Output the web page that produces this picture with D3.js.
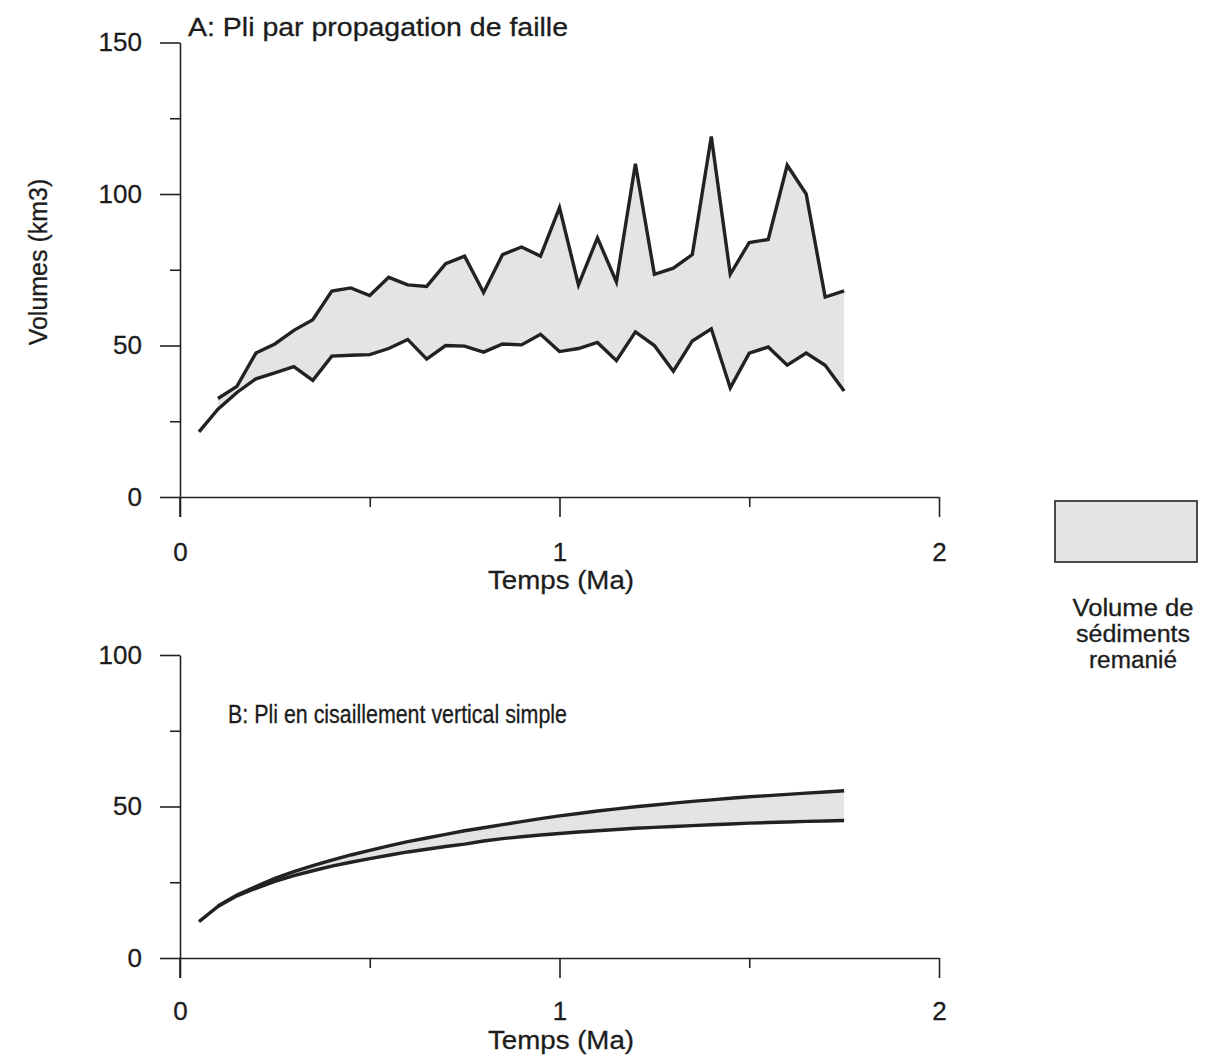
<!DOCTYPE html>
<html>
<head>
<meta charset="utf-8">
<script src="https://cdn.jsdelivr.net/npm/d3@7"></script>
<style>
  html, body { margin: 0; padding: 0; background: #fff; }
  svg { display: block; }
  text { font-family: "Liberation Sans", Arial, sans-serif; fill: #1c1c1c; stroke: #1c1c1c; stroke-width: 0.3; }
</style>
</head>
<body>
<svg id="chart" width="1208" height="1060"></svg>
<script>
// ---------- data ----------
const timeA = [0.05,0.10,0.15,0.20,0.25,0.30,0.35,0.40,0.45,0.50,0.55,0.60,0.65,0.70,0.75,0.80,0.85,0.90,0.95,1.00,1.05,1.10,1.15,1.20,1.25,1.30,1.35,1.40,1.45,1.50,1.55,1.60,1.65,1.70,1.75];
const upperA = [null,32.5,36.5,47.5,50.5,55,58.5,68,69,66.5,72.5,70,69.5,77,79.5,67.5,80,82.5,79.5,95.5,70,85.5,71,110,73.5,75.5,80,119,73.5,84,85,109.5,100,66,68];
const lowerA = [21.5,29,34.5,39,41,43,38.5,46.5,46.8,47,49,52,45.5,50,49.8,47.8,50.5,50.2,53.7,48,49,51,45,54.5,50,41.5,51.5,55.5,36,47.5,49.5,43.5,47.5,43.5,35];

const timeB = [0.05,0.10,0.15,0.20,0.25,0.30,0.35,0.40,0.45,0.50,0.55,0.60,0.65,0.70,0.75,0.80,0.85,0.90,0.95,1.00,1.05,1.10,1.15,1.20,1.25,1.30,1.35,1.40,1.45,1.50,1.55,1.60,1.65,1.70,1.75];
const upperB = [null,17.2,20.8,23.6,26.3,28.5,30.5,32.3,34,35.5,37,38.4,39.6,40.8,42,43,44,45,46,46.9,47.7,48.5,49.2,49.9,50.5,51.1,51.7,52.2,52.7,53.2,53.6,54,54.4,54.8,55.2];
const lowerB = [12,17,20.5,23,25.3,27.2,28.8,30.3,31.6,32.8,33.9,35,35.9,36.8,37.6,38.6,39.4,40,40.6,41.1,41.6,42,42.4,42.8,43.1,43.4,43.7,44,44.2,44.5,44.7,44.9,45.1,45.2,45.4];

const xMajorTicks = [0, 1, 2];
const xMinorTicks = [0.5, 1.5];
const yMajorTicksA = [0, 50, 100, 150];
const yMinorTicksA = [25, 75, 125];
const yMajorTicksB = [0, 50, 100];
const yMinorTicksB = [25, 75];

const titleA = "A: Pli par propagation de faille";
const titleB = "B: Pli en cisaillement vertical simple";
const xTitle = "Temps (Ma)";
const yTitle = "Volumes (km3)";
const legendLines = ["Volume de", "sédiments", "remanié"];

// ---------- drawing ----------
const svg = d3.select("#chart");
const FILL = "#e4e4e4";
const INK = "#222";
const FS = 26;

function drawPanel(opts) {
  const x = d3.scaleLinear().domain([0, 2]).range([180, 939]);
  const y = d3.scaleLinear().domain(opts.yDomain).range(opts.yRange);
  const g = svg.append("g");

  const rows = opts.time.map((t, i) => ({ t, u: opts.upper[i], l: opts.lower[i] }));

  const area = d3.area()
    .defined(d => d.u != null)
    .x(d => x(d.t)).y0(d => y(d.l)).y1(d => y(d.u));
  g.append("path").datum(rows).attr("d", area).attr("fill", FILL).attr("stroke", "none");

  const yMinor = g.append("g").attr("transform", `translate(${x(0)},0)`)
    .call(d3.axisLeft(y).tickValues(opts.yMinor).tickSize(10).tickFormat(""));
  yMinor.select(".domain").remove();
  const yMajor = g.append("g").attr("transform", `translate(${x(0)},0)`)
    .call(d3.axisLeft(y).tickValues(opts.yMajor).tickSize(20).tickSizeOuter(0).tickPadding(18).tickFormat(d3.format("d")));
  const xMinor = g.append("g").attr("transform", `translate(0,${y(0)})`)
    .call(d3.axisBottom(x).tickValues(xMinorTicks).tickSize(10).tickFormat(""));
  xMinor.select(".domain").remove();
  const xMajor = g.append("g").attr("transform", `translate(0,${y(0)})`)
    .call(d3.axisBottom(x).tickValues(xMajorTicks).tickSize(20).tickSizeOuter(0).tickPadding(opts.xPad).tickFormat(d3.format("d")));

  [yMinor, yMajor, xMinor, xMajor].forEach(a => {
    a.selectAll("line").attr("stroke", INK).attr("stroke-width", 1.6);
    a.selectAll(".domain").attr("stroke", INK).attr("stroke-width", 1.6);
    a.selectAll("text").attr("font-size", FS).attr("fill", "#1c1c1c")
      .attr("font-family", "'Liberation Sans', Arial, sans-serif");
  });
  g.append("line").attr("x1", x(0)).attr("x2", x(0)).attr("y1", y(0)).attr("y2", y(0) + 20)
    .attr("stroke", INK).attr("stroke-width", 1.6);

  const line = d3.line().defined(d => d.v != null).x(d => x(d.t)).y(d => y(d.v));
  const styleLine = p => p.attr("fill", "none").attr("stroke", INK).attr("stroke-width", 3.4)
    .attr("stroke-linejoin", "miter").attr("stroke-miterlimit", 4);
  g.append("path").datum(rows.map(r => ({ t: r.t, v: r.l }))).attr("d", line).call(styleLine);
  g.append("path").datum(rows.map(r => ({ t: r.t, v: r.u }))).attr("d", line).call(styleLine);

  g.append("text").attr("x", opts.titleX).attr("y", opts.titleY).attr("font-size", opts.titleFS)
    .attr("textLength", opts.titleLen).attr("lengthAdjust", "spacingAndGlyphs").text(opts.title);
  g.append("text").attr("x", 561).attr("y", opts.xTitleY).attr("text-anchor", "middle")
    .attr("font-size", FS).attr("textLength", 146).attr("lengthAdjust", "spacingAndGlyphs").text(xTitle);
  return { x, y };
}

drawPanel({
  time: timeA, upper: upperA, lower: lowerA,
  yDomain: [0, 150], yRange: [497, 42.5],
  yMajor: yMajorTicksA, yMinor: yMinorTicksA, xPad: 26,
  title: titleA, titleX: 188, titleY: 36, titleFS: 26, titleLen: 380, xTitleY: 589
});

drawPanel({
  time: timeB, upper: upperB, lower: lowerB,
  yDomain: [0, 100], yRange: [958, 655],
  yMajor: yMajorTicksB, yMinor: yMinorTicksB, xPad: 24,
  title: titleB, titleX: 228, titleY: 723, titleFS: 25, titleLen: 339, xTitleY: 1049
});

svg.append("text").attr("transform", "translate(47,262) rotate(-90)")
  .attr("text-anchor", "middle").attr("font-size", 25).text(yTitle);

// legend
svg.append("rect").attr("x", 1055).attr("y", 501).attr("width", 142).attr("height", 61)
  .attr("fill", FILL).attr("stroke", INK).attr("stroke-width", 1.6);
const legendLens = [121, 114, 88];
legendLines.forEach((s, i) => {
  svg.append("text").attr("x", 1133).attr("y", 616 + i * 26).attr("text-anchor", "middle")
    .attr("font-size", 23).attr("textLength", legendLens[i]).attr("lengthAdjust", "spacingAndGlyphs").text(s);
});
</script>
</body>
</html>
